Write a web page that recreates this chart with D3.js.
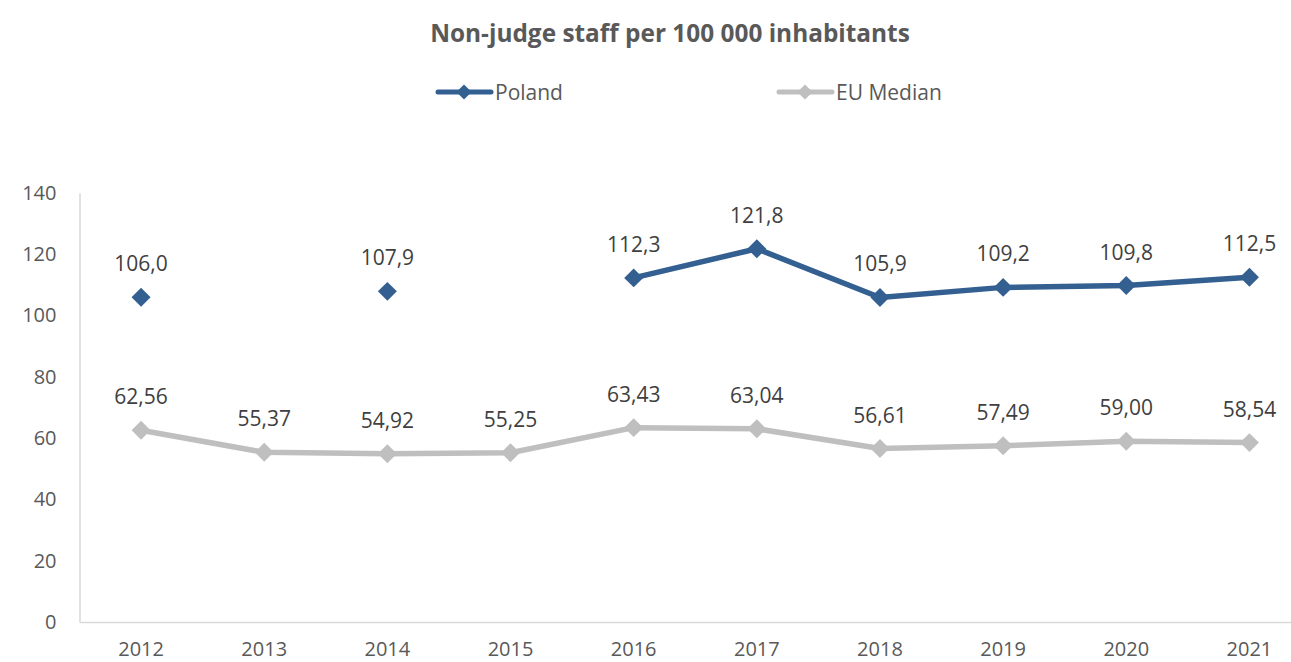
<!DOCTYPE html>
<html><head><meta charset="utf-8">
<script src="https://cdn.jsdelivr.net/npm/d3@7"></script>
<style>
body{margin:0;background:#fff;}
svg{display:block;font-family:"Open Sans","Noto Sans",sans-serif;}
</style></head>
<body><svg id="c" width="1291" height="662"></svg>
<script>
const years = ["2012","2013","2014","2015","2016","2017","2018","2019","2020","2021"];
const poland = [106.0, null, 107.9, null, 112.3, 121.8, 105.9, 109.2, 109.8, 112.5];
const polandLabels = ["106,0", "", "107,9", "", "112,3", "121,8", "105,9", "109,2", "109,8", "112,5"];
const euMedian = [62.56, 55.37, 54.92, 55.25, 63.43, 63.04, 56.61, 57.49, 59.00, 58.54];
const euLabels = ["62,56","55,37","54,92","55,25","63,43","63,04","56,61","57,49","59,00","58,54"];
const yTicks = [0,20,40,60,80,100,120,140];

(function(){
const svg = d3.select("#c");
const pL = 79.5, pR = 1311, pT = 193, pB = 622;
const x = d3.scaleBand().domain(years).range([pL, pR]);
const y = d3.scaleLinear().domain([0,140]).range([pB, pT]);
const cx = d => x(d) + x.bandwidth()/2;

const textCol = "#595959";
const polCol = "#335f91";
const euCol = "#bfbfbf";

svg.append("text").attr("x", 670).attr("y", 42).attr("text-anchor","middle")
  .attr("font-size", 24.4).attr("font-weight","bold").attr("fill", textCol)
  .text("Non-judge staff per 100 000 inhabitants");

const markShape = d3.symbol().type(d3.symbolSquare).size(180);
const legShape = d3.symbol().type(d3.symbolSquare).size(115);
function legendItem(x0, col, label){
  svg.append("line").attr("x1", x0).attr("x2", x0+53).attr("y1", 92).attr("y2", 92)
    .attr("stroke", col).attr("stroke-width", 5).attr("stroke-linecap","round");
  svg.append("path").attr("d", legShape()).attr("transform", `translate(${x0+26},92) rotate(45)`).attr("fill", col);
  svg.append("text").attr("x", x0+57).attr("y", 99.5).attr("font-size", 21).attr("fill", textCol).text(label);
}
legendItem(438, polCol, "Poland");
legendItem(779, euCol, "EU Median");

const gy = svg.append("g").attr("transform", `translate(${pL},0)`)
  .call(d3.axisLeft(y).tickValues(yTicks).tickSize(0).tickPadding(23));
gy.attr("font-family", null).attr("font-size", null);
gy.select(".domain").attr("stroke", "#d9d9d9").attr("stroke-width", 1.5);
gy.selectAll("text").attr("font-size", 20).attr("fill", textCol);

const gx = svg.append("g").attr("transform", `translate(0,${pB})`)
  .call(d3.axisBottom(x).tickSize(0).tickPadding(20));
gx.attr("font-family", null).attr("font-size", null);
gx.select(".domain").attr("stroke", "#d9d9d9").attr("stroke-width", 1.5);
gx.selectAll("text").attr("font-size", 20).attr("fill", textCol);

function drawSeries(vals, labels, col){
  const data = years.map((yr,i)=>({yr, v: vals[i], lab: labels[i]}));
  const line = d3.line().defined(d=>d.v!=null).x(d=>cx(d.yr)).y(d=>y(d.v));
  svg.append("path").datum(data).attr("d", line).attr("fill","none")
    .attr("stroke", col).attr("stroke-width", 5.5).attr("stroke-linejoin","round");
  const pts = data.filter(d=>d.v!=null);
  svg.selectAll(null).data(pts).enter().append("path")
    .attr("d", markShape()).attr("transform", d=>`translate(${cx(d.yr)},${y(d.v)}) rotate(45)`)
    .attr("fill", col);
  svg.selectAll(null).data(pts).enter().append("text")
    .attr("x", d=>cx(d.yr)).attr("y", d=>y(d.v)-26).attr("text-anchor","middle")
    .attr("font-size", 21).attr("fill", "#404040").text(d=>d.lab);
}
drawSeries(euMedian, euLabels, euCol);
drawSeries(poland, polandLabels, polCol);
})();
</script></body></html>
